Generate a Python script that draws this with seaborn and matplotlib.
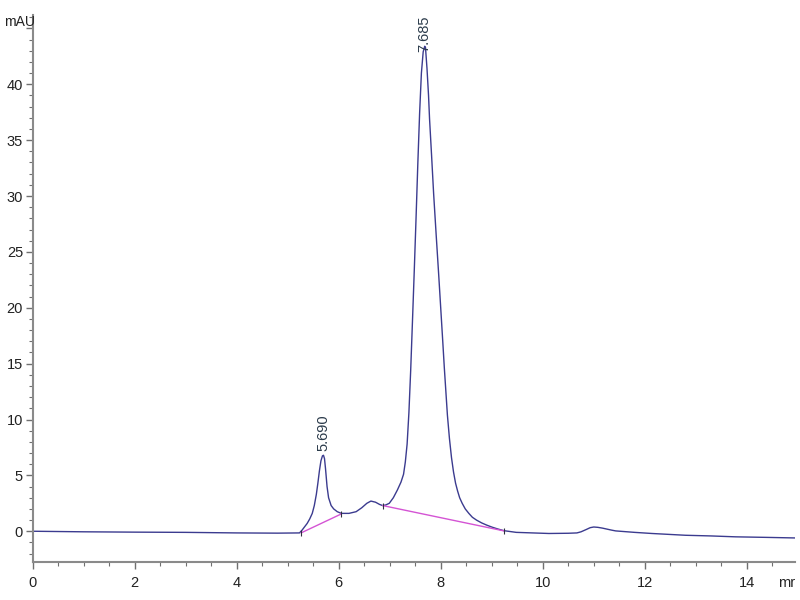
import matplotlib
matplotlib.use("Agg")
import matplotlib.pyplot as plt
import matplotlib.ticker as mticker
import seaborn as sns
import pandas as pd

# Chromatogram trace (time in min, signal in mAU)
time_min = [0.0, 1.0, 2.0, 3.0, 4.0, 4.8, 5.23, 5.28, 5.33, 5.38, 5.43, 5.48, 5.52,
            5.56, 5.59, 5.62, 5.65, 5.68, 5.70, 5.72, 5.74, 5.77, 5.80, 5.85, 5.90,
            5.97, 6.05, 6.20, 6.34, 6.45, 6.55, 6.63, 6.72, 6.80, 6.86, 6.92, 6.99,
            7.07, 7.15, 7.22, 7.27, 7.305, 7.34, 7.375, 7.41, 7.445, 7.48, 7.515,
            7.55, 7.585, 7.62, 7.655, 7.685, 7.70, 7.73, 7.76, 7.78, 7.82, 7.86,
            7.91, 7.96, 8.00, 8.04, 8.07, 8.10, 8.13, 8.17, 8.21, 8.25, 8.29, 8.33,
            8.37, 8.42, 8.48, 8.55, 8.62, 8.70, 8.80, 8.90, 9.01, 9.12, 9.24, 9.48,
            9.80, 10.12, 10.50, 10.67, 10.75, 10.85, 10.93, 11.00, 11.08, 11.17,
            11.25, 11.35, 11.43, 11.80, 12.14, 12.80, 13.30, 13.78, 14.40, 14.95]
signal_mau = [0.0, -0.05, -0.08, -0.1, -0.15, -0.17, -0.15, 0.1, 0.4, 0.7, 1.1, 1.6, 2.3,
              3.3, 4.3, 5.4, 6.3, 6.75, 6.8, 6.5, 5.6, 4.0, 3.0, 2.3, 2.0,
              1.75, 1.6, 1.6, 1.75, 2.1, 2.5, 2.7, 2.6, 2.4, 2.3, 2.35, 2.5,
              3.0, 3.7, 4.4, 5.1, 6.2, 7.8, 10.6, 14.4, 18.8, 23.3, 28.0,
              32.9, 37.4, 41.0, 42.9, 43.4, 43.3, 41.4, 39.0, 36.9, 33.6, 30.2,
              26.5, 22.9, 19.9, 16.9, 14.6, 12.5, 10.4, 8.3, 6.6, 5.3, 4.3, 3.6,
              3.0, 2.5, 2.0, 1.6, 1.25, 1.0, 0.75, 0.55, 0.36, 0.2, 0.05, -0.1,
              -0.15, -0.2, -0.18, -0.15, -0.05, 0.15, 0.32, 0.38, 0.35, 0.28,
              0.2, 0.1, 0.03, -0.1, -0.2, -0.36, -0.42, -0.5, -0.55, -0.6]

# Integration baselines (start/end points)
base1_t = [5.26, 6.05]
base1_y = [-0.15, 1.55]
base2_t = [6.86, 9.24]
base2_y = [2.3, 0.03]

# Peak labels
peak_times = [5.690, 7.685]
peak_label_y = [7.2, 42.9]
peak_labels = ["5.690", "7.685"]

x_tick_vals = [0, 2, 4, 6, 8, 10, 12, 14]
y_tick_vals = [0, 5, 10, 15, 20, 25, 30, 35, 40, 45]
y_tick_labels = ["0", "5", "10", "15", "20", "25", "30", "35", "40", ""]

sns.set_theme(style="white")
plt.rcParams["font.family"] = ["Liberation Sans", "DejaVu Sans"]

df = pd.DataFrame({"t": time_min, "y": signal_mau})
fig = plt.figure(figsize=(8, 6), dpi=100)
ax = fig.add_axes([0.041, 0.063, 0.953, 0.912])

sns.lineplot(data=df, x="t", y="y", ax=ax, color="#3b3b8f", linewidth=1.0,
             estimator=None, sort=False)
ax.plot(base1_t, base1_y, color="#d454d4", linewidth=1.0)
ax.plot(base2_t, base2_y, color="#d454d4", linewidth=1.0)
ax.plot(base1_t + base2_t, base1_y + base2_y, linestyle="none", marker="|",
        markersize=5, color="#303040", markeredgewidth=0.8)

for t, yv, lab in zip(peak_times, peak_label_y, peak_labels):
    ax.text(t, yv, lab, rotation=90, ha="center", va="bottom", fontsize=10.5,
            color="#2b3b4b")

ax.set_xlim(0, 14.95)
ax.set_ylim(-2.77, 46.2)
ax.set_xlabel("")
ax.set_ylabel("")

ax.xaxis.set_major_locator(mticker.FixedLocator(x_tick_vals))
ax.xaxis.set_minor_locator(mticker.MultipleLocator(0.5))
ax.yaxis.set_major_locator(mticker.FixedLocator(y_tick_vals))
ax.yaxis.set_major_formatter(mticker.FixedFormatter(y_tick_labels))
ax.yaxis.set_minor_locator(mticker.MultipleLocator(1))

for s in ["top", "right"]:
    ax.spines[s].set_visible(False)
for s in ["left", "bottom"]:
    ax.spines[s].set_color("#8a8a8a")
    ax.spines[s].set_linewidth(1.5)

ax.tick_params(axis="both", which="major", direction="out", length=5, width=1,
               color="#707070", labelsize=10.5, labelcolor="#222222", pad=2)
ax.tick_params(axis="both", which="minor", direction="out", length=3, width=0.8,
               color="#707070")
ax.tick_params(axis="x", which="major", pad=5)
ax.tick_params(axis="x", which="both", bottom=True)
ax.tick_params(axis="y", which="both", left=True)

# unit label at the top of the y axis and the truncated "min" at the x-axis end
fig.text(4 / 800, 1 - 22 / 600, "mAU", ha="left", va="center", fontsize=10,
         color="#222222")
ax.text(14.78, -4.0, "mr", ha="center", va="top", fontsize=10.5, color="#222222")

fig.savefig("out.png", dpi=100, facecolor="white")
